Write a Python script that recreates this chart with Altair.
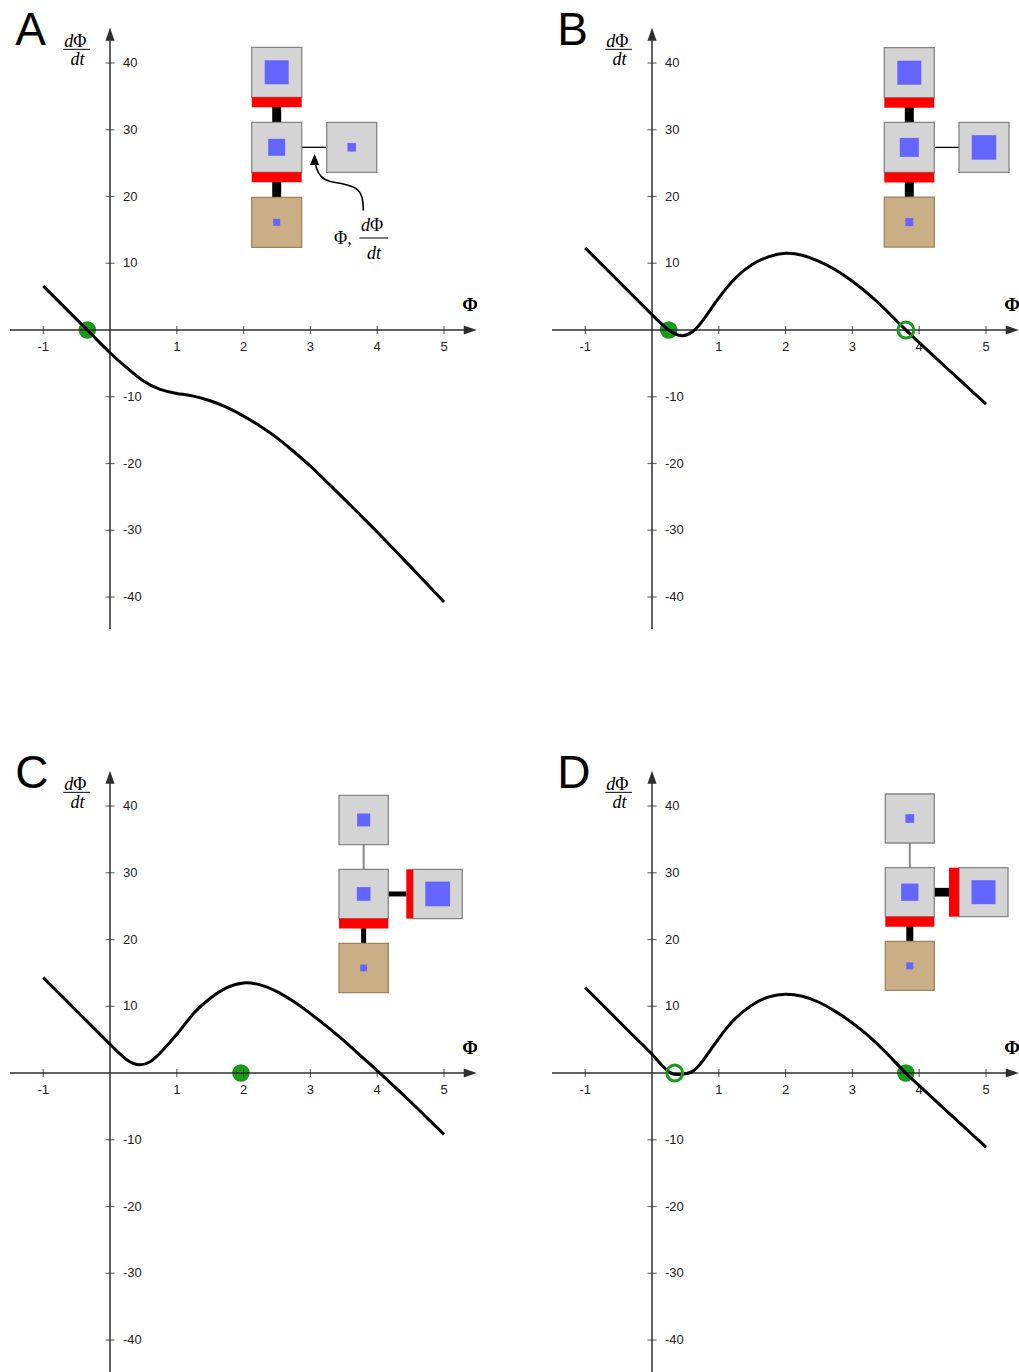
import altair as alt
import pandas as pd

# ---------------------------------------------------------------
# Rate curves dΦ/dt versus Φ for four circuit variants (A–D)
# ---------------------------------------------------------------
PHI_A = [-1, -0.75, -0.5, -0.25, 0, 0.25, 0.5, 0.75, 1, 1.25, 1.5, 1.75, 2,
         2.25, 2.5, 2.75, 3, 3.25, 3.5, 3.75, 4, 4.25, 4.5, 4.75, 5]
RATE_A = [6.6, 4.1, 1.6, -0.9, -3.4, -5.65, -7.65, -8.9, -9.5, -9.9, -10.6,
          -11.6, -12.9, -14.4, -16.15, -18.2, -20.4, -22.8, -25.25, -27.75,
          -30.25, -32.85, -35.45, -38.1, -40.75]

PHI_BCD = [-1, -0.75, -0.5, -0.25, 0, 0.25, 0.45, 0.6, 0.75, 1, 1.25, 1.5, 1.75,
           2, 2.25, 2.5, 2.75, 3, 3.25, 3.5, 3.75, 4, 4.25, 4.5, 4.75, 5]
RATE_B = [12.3, 9.8, 7.3, 4.8, 2.3, 0.0, -0.85, -0.3, 1.3, 4.8, 7.8, 9.8, 11.0,
          11.5, 11.2, 10.3, 9.0, 7.3, 5.3, 3.0, 0.5, -1.9, -4.2, -6.5, -8.8, -11.1]
RATE_C = [14.3, 11.8, 9.3, 6.8, 4.3, 2.0, 1.25, 1.7, 3.0, 5.8, 8.9, 11.2, 12.8,
          13.5, 13.2, 12.2, 10.7, 8.9, 6.95, 4.85, 2.6, 0.35, -1.95, -4.3, -6.75, -9.2]
RATE_D = [12.8, 10.3, 7.8, 5.3, 2.8, 0.2, -0.2, 0.2, 1.7, 5.2, 8.2, 10.2, 11.4,
          11.8, 11.5, 10.6, 9.2, 7.5, 5.5, 3.1, 0.5, -1.9, -4.2, -6.5, -8.8, -11.1]

# fixed points marked on the Φ axis (filled = stable, open = unstable)
STABLE_A, UNSTABLE_A = [-0.34], []
STABLE_B, UNSTABLE_B = [0.25], [3.80]
STABLE_C, UNSTABLE_C = [1.96], []
STABLE_D, UNSTABLE_D = [3.80], [0.34]

# circuit glyph: inner square side (px) of the top, middle, bottom and right node
NODES_A = [24, 17, 7, 8.5]
NODES_B = [24, 19, 8, 24.5]
NODES_C = [13, 13.7, 6.7, 24.7]
NODES_D = [8.7, 17.3, 7, 24]

XTICKS = [-1, 1, 2, 3, 4, 5]
YTICKS = [-40, -30, -20, -10, 10, 20, 30, 40]

# ---------------------------------------------------------------
# styling / layout
# ---------------------------------------------------------------
W, H = 477, 629
HSPACE, VSPACE = 65, 114
X_DOM = [-1.647, 5.494]
Y_DOM = [-44.79, 49.44]
SANS = "Liberation Sans"
SERIF = "Liberation Serif"
AXIS = "#2e2e2e"
GREEN = "#1a9a1a"
GREY, GREY_EDGE = "#d4d4d4", "#858585"
TAN, TAN_EDGE = "#c9ae86", "#a2835f"
BLUE, RED, BLACK = "#6464ff", "#ff0000", "#000000"

RIGHT_HEAD = "M0,0L-1,-0.35L-1,0.35Z"
UP_HEAD = "M0,0L-0.35,1L0.35,1Z"
SMALL_UP_HEAD = "M0,0L-0.42,1L0.42,1Z"

xs = alt.Scale(domain=X_DOM, nice=False, zero=False)
ys = alt.Scale(domain=Y_DOM, nice=False, zero=False)


def X(f):
    return alt.X(f, type="quantitative", scale=xs, axis=None)


def Y(f):
    return alt.Y(f, type="quantitative", scale=ys, axis=None)


def PX(f):
    return alt.X(f, type="quantitative", scale=None, axis=None)


def PY(f):
    return alt.Y(f, type="quantitative", scale=None, axis=None)


def text_layer(x, y, t, pixel=False, **style):
    """One piece of text, placed in data units or in panel pixels."""
    df = pd.DataFrame({"x": [x], "y": [y], "t": [t]})
    enc_x, enc_y = (PX("x"), PY("y")) if pixel else (X("x"), Y("y"))
    opts = dict(font=SERIF, fontSize=18, color=BLACK, baseline="alphabetic")
    opts.update(style)
    return alt.Chart(df).mark_text(**opts).encode(x=enc_x, y=enc_y, text="t:N")


def circuit_rows(origin, box, pitch, nodes, top_link, right_link,
                 conn, side_conn=0, side_red=0):
    """Rectangles (panel pixels) of the four-node circuit glyph."""
    ox, oy = origin
    top, mid, bot = oy, oy + pitch, oy + 2 * pitch
    rx = ox + pitch
    cx = ox + box / 2
    cy = mid + box / 2
    red_t = 10
    rows = []

    def add(x0, y0, x1, y1, fill, stroke=None, sw=0):
        rows.append({"x0": x0, "x1": x1, "y0": y0, "y1": y1,
                     "fill": fill, "stroke": stroke or fill, "sw": sw})

    # links (behind the nodes)
    if top_link == "inhibit":
        add(cx - conn / 2, top + box, cx + conn / 2, mid, BLACK)
    else:
        add(cx - 1, top + box, cx + 1, mid, "#8a8a8a")
    add(cx - conn / 2, mid + box, cx + conn / 2, bot, BLACK)
    if right_link == "inhibit":
        add(ox + box, cy - side_conn / 2, rx - side_red, cy + side_conn / 2, BLACK)
    else:
        add(ox + box, cy - 0.65, rx, cy + 0.65, BLACK)

    # nodes
    for (bx, by, fill, edge), side in zip(
            [(ox, top, GREY, GREY_EDGE), (ox, mid, GREY, GREY_EDGE),
             (ox, bot, TAN, TAN_EDGE), (rx, mid, GREY, GREY_EDGE)], nodes):
        add(bx, by, bx + box, by + box, fill, edge, 1.3)
        c_x, c_y = bx + box / 2, by + box / 2
        add(c_x - side / 2, c_y - side / 2, c_x + side / 2, c_y + side / 2, BLUE)

    # inhibition bars
    if top_link == "inhibit":
        add(ox, top + box, ox + box, top + box + red_t, RED)
    add(ox, mid + box, ox + box, mid + box + red_t, RED)
    if right_link == "inhibit":
        add(rx - side_red, mid, rx, mid + box, RED)
    return pd.DataFrame(rows)


def panel(letter, phi, rate, stable, unstable, circuit, extra=None):
    layers = []

    # fixed points (filled, under the curve)
    if stable:
        layers.append(alt.Chart(pd.DataFrame({"x": stable, "y": 0.0}))
                      .mark_circle(size=310, color=GREEN, opacity=1)
                      .encode(x=X("x"), y=Y("y")))

    # axis lines and arrow heads
    axes_df = pd.DataFrame({"x": [-1.497, 0.0], "x2": [5.40, 0.0],
                            "y": [0.0, Y_DOM[0]], "y2": [0.0, 43.6]})
    layers.append(alt.Chart(axes_df).mark_rule(color=AXIS, strokeWidth=1.5, clip=True)
                  .encode(x=X("x"), x2="x2", y=Y("y"), y2="y2"))
    heads_df = pd.DataFrame({"x": [5.49, 0.0], "y": [0.0, 45.3],
                             "shape": [RIGHT_HEAD, UP_HEAD]})
    layers.append(alt.Chart(heads_df)
                  .mark_point(filled=True, color=AXIS, opacity=1, size=676, clip=True)
                  .encode(x=X("x"), y=Y("y"), shape=alt.Shape("shape:N", scale=None)))

    # ticks and tick labels
    xt_df = pd.DataFrame({"v": XTICKS, "z": 0.0, "t": [str(v) for v in XTICKS]})
    yt_df = pd.DataFrame({"v": YTICKS, "z": 0.0, "t": [str(v) for v in YTICKS]})
    layers.append(alt.Chart(xt_df).mark_tick(orient="vertical", size=8, thickness=1.2, color=AXIS)
                  .encode(x=X("v"), y=Y("z")))
    layers.append(alt.Chart(yt_df).mark_tick(orient="horizontal", size=9, thickness=1.2, color=AXIS)
                  .encode(x=X("z"), y=Y("v")))
    layers.append(alt.Chart(xt_df).mark_text(dy=17, fontSize=13, font=SANS, color="#222222")
                  .encode(x=X("v"), y=Y("z"), text="t:N"))
    layers.append(alt.Chart(yt_df)
                  .mark_text(dx=13, align="left", baseline="middle", fontSize=13,
                             font=SANS, color="#222222")
                  .encode(x=X("z"), y=Y("v"), text="t:N"))

    # the rate curve
    layers.append(alt.Chart(pd.DataFrame({"phi": phi, "rate": rate}))
                  .mark_line(color=BLACK, strokeWidth=3, interpolate="natural")
                  .encode(x=X("phi"), y=Y("rate")))

    # open fixed points (on top of the curve)
    if unstable:
        layers.append(alt.Chart(pd.DataFrame({"x": unstable, "y": 0.0}))
                      .mark_point(shape="circle", filled=False, size=250, strokeWidth=3,
                                  color=GREEN, opacity=1)
                      .encode(x=X("x"), y=Y("y")))

    # axis titles and panel letter
    layers.append(text_layer(5.39, 3.75, "Φ", baseline="middle", fontSize=19,
                             fontWeight="bold", clip=True))
    layers.append(text_layer(-0.684, 42.44, "d", fontStyle="italic", align="left"))
    layers.append(text_layer(-0.550, 42.44, "Φ", align="left"))
    layers.append(text_layer(-0.487, 39.7, "dt", fontStyle="italic", align="center"))
    layers.append(alt.Chart(pd.DataFrame({"x": [-0.699], "x2": [-0.299], "y": [42.05]}))
                  .mark_rule(color=BLACK, strokeWidth=1)
                  .encode(x=X("x"), x2="x2", y=Y("y")))
    layers.append(text_layer(-1.42, 42.7, letter, font=SANS, fontSize=46, align="left"))

    # circuit glyph
    layers.append(alt.Chart(circuit).mark_rect()
                  .encode(x=PX("x0"), x2="x1", y=PY("y0"), y2="y1",
                          fill=alt.Fill("fill:N", scale=None),
                          stroke=alt.Stroke("stroke:N", scale=None),
                          strokeWidth=alt.StrokeWidth("sw:Q", scale=None)))
    if extra:
        layers.extend(extra)
    return alt.layer(*layers).properties(width=W, height=H)


# annotation in panel A: curved arrow pointing at the middle–right link
arrow_df = pd.DataFrame({"i": range(8),
                         "x": [363.3, 363.0, 357.0, 343.0, 330.0, 320.0, 316.3, 315.0],
                         "y": [210.5, 197.0, 187.5, 183.5, 182.0, 177.0, 168.0, 162.0]})
arrow_layers = [
    alt.Chart(arrow_df).mark_line(color=BLACK, strokeWidth=1.6, interpolate="basis")
    .encode(x=PX("x"), y=PY("y"), order="i:Q"),
    alt.Chart(pd.DataFrame({"x": [314.6], "y": [154.0], "s": [SMALL_UP_HEAD]}))
    .mark_point(filled=True, color=BLACK, opacity=1, size=484)
    .encode(x=PX("x"), y=PY("y"), shape=alt.Shape("s:N", scale=None)),
    text_layer(334.0, 243.5, "Φ,", pixel=True, align="left"),
    text_layer(361.0, 230.5, "d", pixel=True, fontStyle="italic", align="left"),
    text_layer(370.0, 230.5, "Φ", pixel=True, align="left"),
    alt.Chart(pd.DataFrame({"x": [359.5], "x2": [388.0], "y": [238.0]}))
    .mark_rule(color=BLACK, strokeWidth=1)
    .encode(x=PX("x"), x2="x2", y=PY("y")),
    text_layer(374.0, 258.5, "dt", pixel=True, fontStyle="italic", align="center"),
]

circ_A = circuit_rows((251.7, 47.3), 50, 75, NODES_A, "inhibit", "line", conn=9)
circ_B = circuit_rows((342.3, 47.7), 50, 74.7, NODES_B, "inhibit", "line", conn=9)
circ_C = circuit_rows((339.0, 52.3), 49.3, 74, NODES_C, "line", "inhibit", conn=5,
                      side_conn=5, side_red=6.7)
circ_D = circuit_rows((343.3, 51.0), 49, 73.7, NODES_D, "line", "inhibit", conn=7,
                      side_conn=8.7, side_red=10)

pA = panel("A", PHI_A, RATE_A, STABLE_A, UNSTABLE_A, circ_A, arrow_layers)
pB = panel("B", PHI_BCD, RATE_B, STABLE_B, UNSTABLE_B, circ_B)
pC = panel("C", PHI_BCD, RATE_C, STABLE_C, UNSTABLE_C, circ_C)
pD = panel("D", PHI_BCD, RATE_D, STABLE_D, UNSTABLE_D, circ_D)

chart = alt.concat(
    pA, pB, pC, pD, columns=2,
    spacing={"row": VSPACE, "column": HSPACE}, bounds="flush",
).properties(padding=0).configure_view(stroke=None)

chart.save("out.html", embed_options={"renderer": "svg", "actions": False})
